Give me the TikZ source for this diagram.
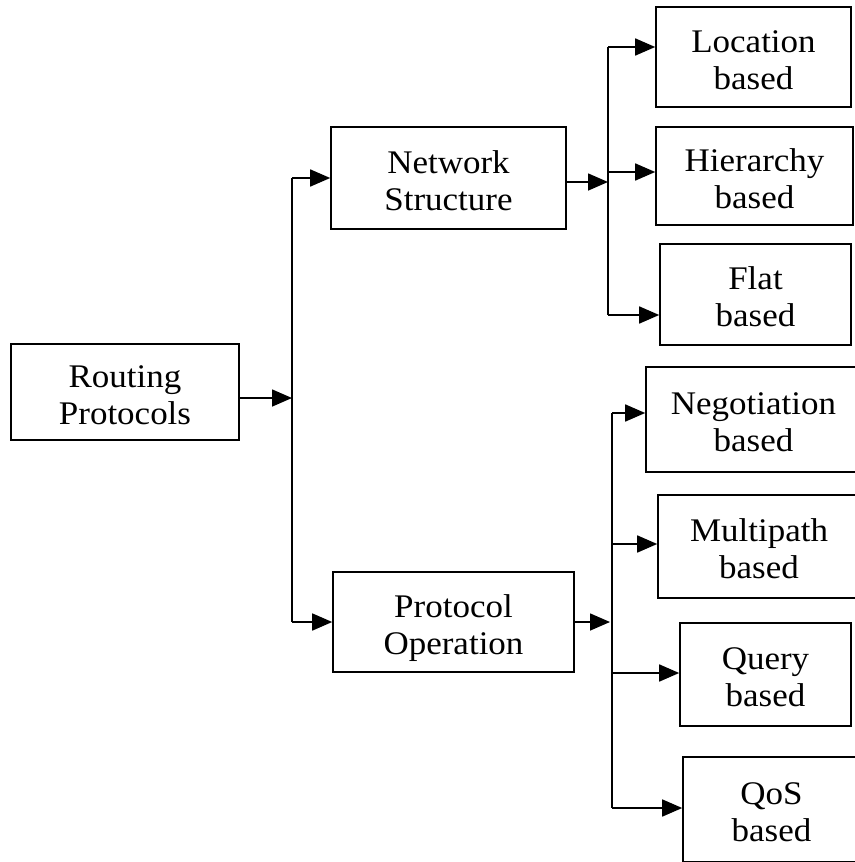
\documentclass[tikz,border=0pt]{standalone}
\usepackage{fontspec}
\setmainfont[FakeStretch=1.06]{Liberation Serif}
\usetikzlibrary{arrows.meta}

\begin{document}
\begin{tikzpicture}[
        x=1pt, y=-1pt,
        box/.style={draw, rectangle, line width=1.6pt, align=center, inner sep=0pt, font=\fontsize{33}{37}\selectfont,
            text height=64pt, text depth=0pt},
        arrow/.style={-{Triangle[length=20pt, width=17pt]}, line width=1.6pt},
        trunk/.style={line width=1.6pt}
    ]
        \useasboundingbox (0,0) rectangle (854,862);

        % Root
        \node[box, minimum width=228pt, minimum height=96pt] (rp) at (125,392) {Routing\\Protocols};

        % Middle level
        \node[box, minimum width=235pt, minimum height=102pt] (ns) at (448.5,178) {Network\\Structure};
        \node[box, minimum width=241pt, minimum height=100pt] (po) at (453.5,622) {Protocol\\Operation};

        % Right side: network structure
        \node[box, minimum width=195pt, minimum height=100pt] (loc) at (753.5,57) {Location\\based};
        \node[box, minimum width=197pt, minimum height=98pt] (hier) at (754.5,176) {Hierarchy\\based};
        \node[box, minimum width=191pt, minimum height=101pt] (flat) at (755.5,294.5) {Flat\\based};

        % Right side: protocol operation
        \node[box, minimum width=215pt, minimum height=105pt] (neg) at (753.5,419.5) {Negotiation\\based};
        \node[box, minimum width=202pt, minimum height=103pt] (multi) at (759,546.5) {Multipath\\based};
        \node[box, minimum width=171pt, minimum height=103pt] (query) at (765.5,674.5) {Query\\based};
        \node[box, minimum width=177pt, minimum height=105pt] (qos) at (771.5,809.5) {QoS\\based};

        % Junctions
        \coordinate (j1) at (292,398);
        \coordinate (j2) at (608,182);
        \coordinate (j3) at (610,622);
        \coordinate (ja) at (608,47);
        \coordinate (jb) at (608,172);
        \coordinate (jc) at (608,315);
        \coordinate (jd) at (612,413);
        \coordinate (je) at (612,544);
        \coordinate (jf) at (612,673);
        \coordinate (jg) at (612,808);

        % Root to middle level
        \draw[arrow] (rp.east |- j1) -- (j1);
        \draw[trunk] (j1 |- ns.west) -- (j1 |- po.west);
        \draw[arrow] (j1 |- ns.west) -- (ns.west);
        \draw[arrow] (j1 |- po.west) -- (po.west);

        % Network structure branches
        \draw[arrow] (ns.east |- j2) -- (j2);
        \draw[trunk] (ja) -- (jc);
        \draw[arrow] (ja) -- (loc.west |- ja);
        \draw[arrow] (jb) -- (hier.west |- jb);
        \draw[arrow] (jc) -- (flat.west |- jc);

        % Protocol operation branches
        \draw[arrow] (po.east |- j3) -- (j3);
        \draw[trunk] (jd) -- (jg);
        \draw[arrow] (jd) -- (neg.west |- jd);
        \draw[arrow] (je) -- (multi.west |- je);
        \draw[arrow] (jf) -- (query.west |- jf);
        \draw[arrow] (jg) -- (qos.west |- jg);
    \end{tikzpicture}
\end{document}
